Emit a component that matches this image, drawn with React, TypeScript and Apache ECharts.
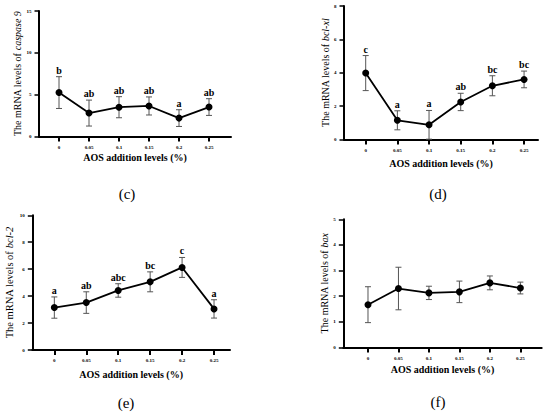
import React, { useEffect, useRef } from "react";
import * as echarts from "echarts";

const xLabels = ["0", "0.05", "0.1", "0.15", "0.2", "0.25"];

// (c) caspase 9
const casp9Mean = [5.25, 2.8, 3.5, 3.65, 2.2, 3.52];
const casp9Err = [1.9, 1.55, 1.26, 1.08, 1.0, 1.0];
const casp9Letters = ["b", "ab", "ab", "ab", "a", "ab"];

// (d) bcl-xl
const bclxlMean = [3.98, 1.15, 0.88, 2.25, 3.22, 3.6];
const bclxlErr = [1.05, 0.57, 0.86, 0.52, 0.6, 0.5];
const bclxlLetters = ["c", "a", "a", "ab", "bc", "bc"];

// (e) bcl-2
const bcl2Mean = [3.15, 3.52, 4.42, 5.06, 6.13, 3.05];
const bcl2Err = [0.79, 0.8, 0.5, 0.74, 0.74, 0.68];
const bcl2Letters = ["a", "ab", "abc", "bc", "c", "a"];

// (f) bax
const baxMean = [1.67, 2.3, 2.13, 2.17, 2.52, 2.32];
const baxErr = [0.7, 0.83, 0.26, 0.42, 0.27, 0.23];
const baxLetters = ["", "", "", "", "", ""];

const SERIF = "Liberation Serif";

type Panel = {
  mean: number[];
  err: number[];
  letters: string[];
  gene: string;
  yMax: number;
  yInterval: number;
  grid: { left: number; top: number; width: number; height: number };
  xMin: number;
  xMax: number;
  yNameGap: number;
  xNameGap: number;
  yNameSize: number;
  tag: string;
  tagPos: [number, number];
};

const panels: Panel[] = [
  {
    mean: casp9Mean, err: casp9Err, letters: casp9Letters, gene: "caspase 9",
    yMax: 15, yInterval: 5,
    grid: { left: 39, top: 11, width: 192, height: 125.5 },
    xMin: -0.667, xMax: 5.733, yNameGap: 15, xNameGap: 16, yNameSize: 10,
    tag: "(c)", tagPos: [127, 194],
  },
  {
    mean: bclxlMean, err: bclxlErr, letters: bclxlLetters, gene: "bcl-xl",
    yMax: 8, yInterval: 2,
    grid: { left: 344, top: 6, width: 194, height: 133.5 },
    xMin: -0.685, xMax: 5.44, yNameGap: 13, xNameGap: 19, yNameSize: 10,
    tag: "(d)", tagPos: [438, 193.5],
  },
  {
    mean: bcl2Mean, err: bcl2Err, letters: bcl2Letters, gene: "bcl-2",
    yMax: 10, yInterval: 2,
    grid: { left: 32.3, top: 215.3, width: 197.7, height: 134.7 },
    xMin: -0.69, xMax: 5.5, yNameGap: 17, xNameGap: 19, yNameSize: 10.5,
    tag: "(e)", tagPos: [126, 403],
  },
  {
    mean: baxMean, err: baxErr, letters: baxLetters, gene: "bax",
    yMax: 5, yInterval: 1,
    grid: { left: 343.3, top: 219.3, width: 198.4, height: 128.2 },
    xMin: -0.81, xMax: 5.7, yNameGap: 9, xNameGap: 16.5, yNameSize: 10,
    tag: "(f)", tagPos: [438, 402],
  },
];

export default function App() {
  const ref = useRef<HTMLDivElement>(null);

  useEffect(() => {
    if (!ref.current) return;
    const chart = echarts.init(ref.current, undefined, { renderer: "svg" });
    const ticks = [0, 1, 2, 3, 4, 5];

    const grid = panels.map((p) => ({ ...p.grid, containLabel: false }));

    const xAxis = panels.map((p, i) => ({
      type: "value",
      gridIndex: i,
      min: p.xMin,
      max: p.xMax,
      axisLine: { show: true, onZero: false, lineStyle: { color: "#000", width: 2 } },
      axisTick: { show: true, customValues: ticks, length: 5, lineStyle: { color: "#000", width: 2 } },
      axisLabel: {
        customValues: ticks,
        formatter: (v: number) => xLabels[Math.round(v)] ?? "",
        fontSize: 5,
        fontWeight: "bold",
        fontFamily: SERIF,
        color: "#000",
        margin: 8,
      },
      splitLine: { show: false },
      name: "AOS addition levels (%)",
      nameLocation: "middle",
      nameGap: p.xNameGap,
      nameTextStyle: { fontFamily: SERIF, fontSize: 10, fontWeight: "bold", color: "#000" },
    }));

    const yAxis = panels.map((p, i) => ({
      type: "value",
      gridIndex: i,
      min: 0,
      max: p.yMax,
      interval: p.yInterval,
      axisLine: { show: true, onZero: false, lineStyle: { color: "#000", width: 2 } },
      axisTick: { show: true, inside: false, length: 4.5, lineStyle: { color: "#000", width: 1.5 } },
      axisLabel: {
        fontSize: 5,
        fontWeight: "bold",
        fontFamily: SERIF,
        color: "#000",
        margin: 7.5,
      },
      splitLine: { show: false },
      name: `{n|The mRNA levels of }{i|${p.gene}}`,
      nameLocation: "middle",
      nameGap: p.yNameGap,
      nameTextStyle: {
        fontFamily: SERIF,
        fontSize: p.yNameSize,
        color: "#000",
        rich: {
          n: { fontFamily: SERIF, fontSize: p.yNameSize, color: "#000" },
          i: { fontFamily: SERIF, fontSize: p.yNameSize, color: "#000", fontStyle: "italic" },
        },
      },
    }));

    const series: any[] = [];
    panels.forEach((p, i) => {
      series.push({
        type: "custom",
        xAxisIndex: i,
        yAxisIndex: i,
        z: 2,
        data: p.mean.map((m, k) => [k, m, p.err[k]]),
        renderItem: (params: any, api: any) => {
          const x = api.value(0);
          const m = api.value(1);
          const e = api.value(2);
          const top = api.coord([x, m + e]);
          const bot = api.coord([x, Math.max(0, m - e)]);
          const half = 3;
          const stroke = { stroke: "#555", lineWidth: 1 };
          const children: any[] = [
            { type: "line", shape: { x1: top[0], y1: top[1], x2: bot[0], y2: bot[1] }, style: stroke },
            { type: "line", shape: { x1: top[0] - half, y1: top[1], x2: top[0] + half, y2: top[1] }, style: stroke },
            { type: "line", shape: { x1: bot[0] - half, y1: bot[1], x2: bot[0] + half, y2: bot[1] }, style: stroke },
          ];
          const letter = p.letters[params.dataIndex];
          if (letter) {
            children.push({
              type: "text",
              x: top[0],
              y: top[1] - 1.5,
              style: {
                text: letter,
                fill: "#000",
                fontFamily: SERIF,
                fontSize: 10,
                fontWeight: "bold",
                textAlign: "center",
                textVerticalAlign: "bottom",
              },
            });
          }
          return { type: "group", children };
        },
      });
      series.push({
        type: "line",
        xAxisIndex: i,
        yAxisIndex: i,
        z: 3,
        data: p.mean.map((m, k) => [k, m]),
        symbol: "circle",
        symbolSize: 7,
        itemStyle: { color: "#000" },
        lineStyle: { color: "#000", width: 1.8 },
      });
    });

    const graphic = panels.map((p) => ({
      type: "text",
      x: p.tagPos[0],
      y: p.tagPos[1],
      style: {
        text: p.tag,
        fill: "#000",
        fontFamily: SERIF,
        fontSize: 15,
        textAlign: "center",
        textVerticalAlign: "middle",
      },
    }));

    chart.setOption({
      animation: false,
      backgroundColor: "#fff",
      grid,
      xAxis,
      yAxis,
      series,
      graphic,
    });

    return () => chart.dispose();
  }, []);

  return (
    <div
      ref={ref}
      style={{ position: "fixed", left: 0, top: 0, width: 550, height: 413 }}
    />
  );
}
